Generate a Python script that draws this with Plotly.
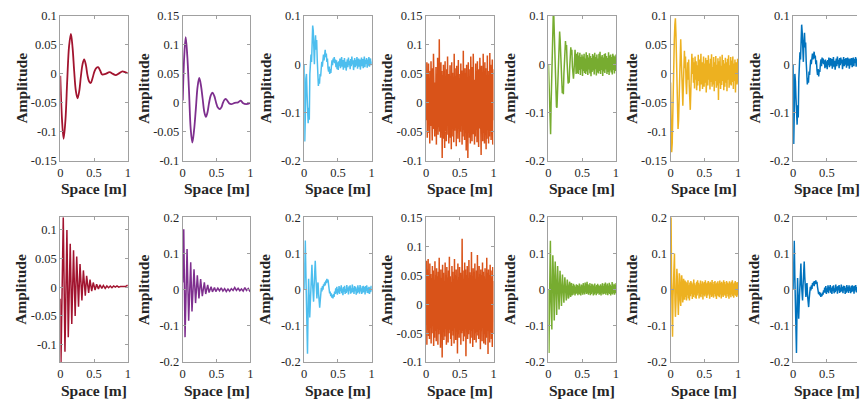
import numpy as np
import plotly.graph_objects as go
from plotly.subplots import make_subplots

# ---------------- colours (one per column) ----------------
col_colors = ["#A2142F", "#7E2F8E", "#4DBEEE", "#D95319", "#77AC30", "#EDB120", "#0072BD"]

# ---------------- x tick labels ----------------
space_ticks = [0, 0.5, 1]
space_tick_text = ["0", "0.5", "1"]

# ---------------- Row 1 data ----------------
r1c1_x = [0, 0.025, 0.049, 0.076, 0.103, 0.13, 0.157, 0.182, 0.205, 0.23, 0.255, 0.28, 0.305, 0.33,
          0.353, 0.378, 0.402, 0.427, 0.45, 0.478, 0.505, 0.532, 0.56, 0.59, 0.62, 0.67, 0.73, 0.78,
          0.82, 0.87, 0.92, 0.96, 1.0]
r1c1_y = [-0.003, -0.078, -0.112, -0.08, -0.01, 0.048, 0.069, 0.045, 0.006, -0.029, -0.042, -0.03,
          -0.004, 0.017, 0.025, 0.016, -0.002, -0.013, -0.0156, -0.007, 0.004, 0.010, 0.0117, 0.006,
          -0.001, 0.0, 0.003, 0.0, -0.002, 0.001, 0.0045, 0.003, 0.001]

r1c2_x = [0, 0.022, 0.044, 0.068, 0.093, 0.118, 0.142, 0.167, 0.193, 0.22, 0.245, 0.27, 0.294, 0.32,
          0.343, 0.367, 0.39, 0.415, 0.44, 0.467, 0.495, 0.52, 0.55, 0.575, 0.595, 0.62, 0.64, 0.665,
          0.69, 0.72, 0.77, 0.82, 0.86, 0.89, 0.94, 1.0]
r1c2_y = [0.004, 0.08, 0.1136, 0.08, 0.02, -0.045, -0.0685, -0.048, -0.012, 0.028, 0.043, 0.03, 0.008,
          -0.016, -0.024, -0.016, 0.0, 0.013, 0.0178, 0.012, 0.0, -0.008, -0.0106, -0.007, 0.0, 0.0055,
          0.0067, 0.003, -0.001, -0.002, 0.0, 0.001, 0.004, 0.0, -0.002, 0.0]

r1c3_y = [0.000, -0.160, -0.110, -0.030, -0.020, -0.060, -0.100, -0.122, -0.090, -0.115, -0.020, 0.010,
          0.020, 0.005, 0.045, 0.080, 0.070, 0.035, 0.000, 0.040, 0.060, 0.030, 0.050, 0.010, -0.020,
          -0.045, -0.030, -0.040, -0.020, -0.025, -0.010, 0.005, -0.005, 0.010, 0.020, 0.008, 0.025,
          0.030, 0.015, 0.022, 0.005, 0.012, -0.008, -0.015, -0.005, -0.020, -0.010, -0.018, -0.004,
          0.008, -0.002, 0.012, 0.004, 0.015, 0.002, 0.010,
          -0.006, 0.008, -0.010, 0.004, -0.012, 0.006, -0.004, 0.012, -0.008, 0.002, 0.015, -0.005,
          0.009, -0.011, 0.003, 0.013, -0.007, 0.005, -0.013, 0.001, 0.010, -0.006, 0.014, -0.002,
          0.007, -0.010, 0.011, -0.004, 0.016, 0.000, 0.008, -0.012, 0.004, 0.013, -0.006, 0.009,
          -0.003, 0.015, -0.009, 0.006, 0.012, -0.005, 0.010, -0.011, 0.007, 0.014, -0.004, 0.011,
          -0.008, 0.003, 0.016, -0.006, 0.009, 0.001, 0.013, -0.007, 0.010, -0.003, 0.015, -0.005,
          0.008, 0.012, -0.002, 0.006]

r1c4_y = [0.020, -0.030, 0.070, -0.060, 0.045, -0.035, 0.068, -0.052, 0.030, -0.070, 0.055, -0.040,
          0.072, -0.025, 0.040, -0.065, 0.060, -0.045, 0.085, -0.030, 0.050, -0.058, 0.035, -0.048,
          0.062, -0.072, 0.045, -0.038, 0.078, -0.055, 0.058, -0.042, 0.110, -0.050, 0.040, -0.060,
          0.070, -0.035, 0.055, -0.095, 0.048, -0.062, 0.066, -0.040, 0.038, -0.078, 0.072, -0.050,
          0.042, -0.066, 0.058, -0.035, 0.080, -0.055, 0.050, -0.070, 0.035, -0.045, 0.065, -0.060,
          0.045, -0.080, 0.070, -0.040, 0.052, -0.058, 0.040, -0.068, 0.085, -0.048, 0.060, -0.036,
          0.046, -0.075, 0.064, -0.052, 0.038, -0.062, 0.074, -0.044, 0.050, -0.068, 0.042, -0.050,
          0.068, -0.038, 0.056, -0.072, 0.045, -0.058, 0.090, -0.046, 0.040, -0.064, 0.060, -0.040,
          0.052, -0.082, 0.066, -0.050, 0.044, -0.095, 0.070, -0.048, 0.058, -0.060, 0.036, -0.070,
          0.080, -0.042, 0.048, -0.066, 0.062, -0.054, 0.085, -0.040, 0.050, -0.072, 0.040, -0.058,
          0.068, -0.046, 0.054, -0.068, 0.072, -0.050, 0.042, -0.076, 0.058, -0.044, 0.078, -0.060,
          0.046, -0.090, 0.064, -0.048, 0.052, -0.066, 0.085, -0.052, 0.044, -0.070, 0.070, -0.056,
          0.060, -0.080, 0.048, -0.062, 0.082, -0.046, 0.055, -0.070, 0.040, -0.058, 0.086, -0.050,
          0.066, -0.064, 0.050, -0.040, 0.075, -0.072, 0.058, -0.030]

r1c5_y = [0.000, -0.040, -0.100, -0.130, -0.145, -0.080, -0.020, 0.040, 0.085, 0.102, 0.102, 0.060,
          0.010, -0.030, -0.070, -0.088, -0.090, -0.050, -0.010, 0.030, 0.055, 0.068, 0.050, 0.020,
          -0.015, -0.040, -0.060, -0.045, -0.062, -0.020, 0.010, 0.035, 0.048, 0.030, 0.040, 0.005,
          -0.025, -0.040, -0.030, -0.038, -0.005, 0.025, 0.035, 0.020, 0.030, -0.005, -0.025, -0.030,
          -0.015, 0.015, 0.030, 0.010, -0.020, 0.022, -0.018, 0.025,
          -0.020, 0.018, -0.012, 0.024, -0.022, 0.015, -0.010, 0.020, -0.024, 0.016, -0.014, 0.022,
          -0.018, 0.012, -0.020, 0.025, -0.015, 0.019, -0.022, 0.014, -0.011, 0.023, -0.019, 0.017,
          -0.025, 0.013, -0.016, 0.021, -0.013, 0.018, -0.021, 0.024, -0.010, 0.015, -0.023, 0.020,
          -0.017, 0.012, -0.019, 0.022, -0.014, 0.026, -0.020, 0.016, -0.012, 0.019, -0.024, 0.014,
          -0.015, 0.021, -0.018, 0.023, -0.011, 0.017, -0.020, 0.013, -0.016, 0.025, -0.022, 0.018,
          -0.013, 0.020, -0.017, 0.015, -0.021, 0.022, -0.012, 0.018, -0.019, 0.016, -0.014, 0.020]

r1c6_y = [-0.015, -0.100, -0.135, -0.120, -0.060, -0.010, 0.030, 0.060, 0.085, 0.096, 0.070, 0.020,
          -0.030, -0.070, -0.095, -0.080, -0.030, 0.010, 0.045, 0.060, 0.030, -0.010, -0.040, -0.055,
          -0.020, 0.015, 0.040, 0.010, 0.030, -0.015, -0.035, -0.005, 0.020, -0.010, 0.025, -0.020,
          -0.040, -0.062, -0.030, 0.010, 0.035, 0.000, 0.028, -0.015, 0.020, -0.025, 0.030,
          -0.010, 0.022, -0.028, 0.015, -0.020, 0.033, -0.012, 0.025, -0.030, 0.010, 0.035, -0.018,
          0.020, -0.026, 0.012, 0.030, -0.022, 0.018, -0.015, 0.028, -0.032, 0.014, 0.024, -0.020,
          0.032, -0.010, 0.018, -0.027, 0.026, -0.014, 0.034, -0.022, 0.012, -0.018, 0.029, -0.030,
          0.020, -0.012, 0.031, -0.024, 0.016, -0.020, 0.027, -0.045, 0.022, -0.016, 0.030, -0.026,
          0.014, -0.019, 0.033, -0.012, 0.024, -0.028, 0.018, -0.022, 0.028, -0.015, 0.020, -0.030,
          0.026, -0.010, 0.032, -0.024, 0.015, -0.018, 0.029, -0.020, 0.023, -0.014, 0.030, -0.026,
          0.018, -0.012, 0.025, -0.032, 0.020, 0.012, -0.018, 0.026, -0.015]

r1c7_y = [0.000, -0.165, -0.100, -0.020, -0.035, -0.070, -0.110, -0.125, -0.085, -0.110, -0.030, 0.005,
          0.025, 0.010, 0.050, 0.082, 0.065, 0.030, 0.005, 0.045, 0.065, 0.035, 0.045, 0.005, -0.025,
          -0.042, -0.028, -0.038, -0.015, -0.022, -0.005, 0.010, 0.000, 0.015, 0.022, 0.010, 0.020,
          0.026, 0.012, 0.018, 0.000, 0.008, -0.012, -0.022, -0.010, -0.025, -0.012, -0.016, 0.000,
          0.010, -0.004, 0.014, 0.002, 0.012, 0.000, 0.008,
          -0.008, 0.010, -0.006, 0.006, -0.010, 0.009, -0.002, 0.014, -0.006, 0.004, 0.013, -0.003,
          0.011, -0.009, 0.005, 0.015, -0.005, 0.007, -0.011, 0.003, 0.012, -0.004, 0.016, 0.000,
          0.009, -0.008, 0.013, -0.002, 0.014, 0.002, 0.010, -0.010, 0.006, 0.015, -0.004, 0.011,
          -0.001, 0.013, -0.007, 0.008, 0.014, -0.003, 0.012, -0.009, 0.009, 0.012, -0.002, 0.013,
          -0.006, 0.005, 0.014, -0.004, 0.011, 0.003, 0.015, -0.005, 0.012, -0.001, 0.013, -0.003,
          0.010, 0.014, 0.000, 0.008]

# ---------------- Row 2 data ----------------
r2c1_x = [0, 0.01, 0.044, 0.069, 0.098, 0.118, 0.147, 0.17, 0.196, 0.22, 0.243, 0.27, 0.292, 0.32,
          0.342, 0.37, 0.39, 0.42, 0.44, 0.465, 0.488, 0.515, 0.538, 0.565, 0.588, 0.615, 0.638,
          0.665, 0.69, 0.715, 0.74, 0.765, 0.79, 0.815, 0.84, 0.865, 0.89, 0.915, 0.94, 0.965, 0.99, 1.0]
r2c1_y = [-0.02, -0.13, 0.121, -0.112, 0.099, -0.087, 0.075, -0.064, 0.064, -0.05, 0.053, -0.034,
          0.04, -0.023, 0.029, -0.015, 0.0196, -0.01, 0.013, -0.007, 0.008, -0.005, 0.005, -0.003,
          0.004, -0.002, 0.003, -0.002, 0.002, -0.001, 0.002, -0.001, 0.002, 0.0, 0.002, 0.0, 0.001,
          0.001, 0.002, 0.001, 0.003, 0.002]

r2c2_x = [0, 0.015, 0.034, 0.064, 0.088, 0.118, 0.137, 0.167, 0.19, 0.216, 0.24, 0.265, 0.29, 0.32,
          0.34, 0.37, 0.39, 0.42, 0.44, 0.47, 0.49, 0.52, 0.545, 0.57, 0.595, 0.62, 0.645, 0.67, 0.695,
          0.72, 0.745, 0.77, 0.795, 0.82, 0.845, 0.87, 0.895, 0.92, 0.945, 0.97, 1.0]
r2c2_y = [0.02, 0.167, -0.131, 0.112, -0.086, 0.0756, -0.06, 0.056, -0.037, 0.04, -0.024, 0.029,
          -0.018, 0.02, -0.012, 0.013, -0.008, 0.008, -0.006, 0.006, -0.005, 0.004, -0.003, 0.005,
          -0.004, 0.003, -0.005, 0.002, -0.004, 0.003, -0.002, 0.006, -0.002, 0.004, -0.003, 0.002,
          -0.004, 0.006, -0.002, 0.003, -0.006]

r2c3_y = [0.000, 0.060, 0.136, 0.050, -0.010, -0.100, -0.177, -0.060, 0.030, -0.020, -0.077, -0.040,
          0.000, 0.040, 0.069, 0.020, -0.020, -0.033, 0.010, 0.060, 0.080, 0.040, 0.000, -0.024,
          0.010, 0.020, -0.010, -0.040, -0.050, -0.030, -0.010, 0.005, -0.005, 0.010, 0.000, 0.015,
          0.010, 0.020, 0.012, 0.025, 0.018, 0.030, 0.020, 0.028, 0.010, 0.005, -0.010, -0.005,
          -0.018, -0.010, -0.022, -0.015, -0.024, -0.012, -0.020, -0.005, -0.012,
          0.004, -0.010, 0.008, -0.014, 0.002, -0.008, 0.010, -0.012, 0.006, -0.004, 0.012, -0.010,
          0.003, -0.015, 0.007, -0.006, 0.011, -0.012, 0.002, -0.009, 0.013, -0.005, 0.006, -0.013,
          0.009, -0.003, 0.012, -0.011, 0.004, -0.008, 0.014, -0.006, 0.005, -0.012, 0.010, -0.004,
          0.008, -0.014, 0.003, -0.010, 0.012, -0.007, 0.006, -0.011, 0.013, -0.005, 0.004, -0.012,
          0.009, -0.008, 0.011, -0.006, 0.007, -0.013, 0.010, -0.004, 0.012, -0.009, 0.005, -0.010,
          0.008, -0.012, 0.006, -0.007, 0.011, -0.005]

r2c4_y = [-0.020, 0.075, -0.070, 0.060, -0.045, 0.078, -0.055, 0.040, -0.060, 0.070, -0.040, 0.052,
          -0.068, 0.045, -0.050, 0.066, -0.035, 0.058, -0.072, 0.042, -0.058, 0.074, -0.046, 0.050,
          -0.064, 0.062, -0.040, 0.048, -0.070, 0.056, -0.052, 0.080, -0.044, 0.040, -0.075, 0.060,
          -0.050, 0.045, -0.092, 0.068, -0.048, 0.054, -0.062, 0.040, -0.056, 0.072, -0.042, 0.050,
          -0.070, 0.064, -0.038, 0.046, -0.066, 0.058, -0.050, 0.082, -0.044, 0.048, -0.060, 0.038,
          -0.072, 0.066, -0.046, 0.056, -0.054, 0.044, -0.068, 0.078, -0.040, 0.050, -0.062, 0.060,
          -0.048, 0.042, -0.085, 0.070, -0.052, 0.046, -0.058, 0.064, -0.044, 0.054, -0.070, 0.048,
          -0.050, 0.113, -0.046, 0.058, -0.064, 0.044, -0.056, 0.072, -0.040, 0.060, -0.090, 0.050,
          -0.048, 0.066, -0.060, 0.042, -0.052, 0.076, -0.044, 0.055, -0.068, 0.050, -0.058, 0.090,
          -0.046, 0.048, -0.074, 0.062, -0.042, 0.056, -0.062, 0.070, -0.050, 0.044, -0.066, 0.058,
          -0.048, 0.085, -0.054, 0.046, -0.060, 0.066, -0.044, 0.052, -0.078, 0.060, -0.046, 0.050,
          -0.064, 0.072, -0.040, 0.056, -0.068, 0.048, -0.052, 0.062, -0.070, 0.044, -0.058, 0.080,
          -0.046, 0.054, -0.086, 0.060, -0.042, 0.050, -0.066, 0.068, -0.048, 0.058, -0.060, 0.046,
          -0.074, 0.064, -0.050, 0.040]

r2c5_y = [0.000, -0.175, -0.050, 0.060, 0.135, -0.020, -0.095, -0.110, 0.030, 0.095, 0.050, -0.070,
          -0.085, 0.020, 0.078, 0.030, -0.060, -0.070, 0.015, 0.065, 0.020, -0.050, -0.055, 0.010,
          0.052, 0.015, -0.042, -0.045, 0.008, 0.042, 0.012, -0.035, -0.036, 0.006, 0.034, 0.010,
          -0.028, -0.030, 0.005, 0.028, 0.008, -0.024, -0.022, 0.012, 0.022, -0.008, -0.020, 0.015,
          0.018, -0.016, 0.010,
          -0.014, 0.016, -0.010, 0.012, -0.016, 0.008, -0.012, 0.015, -0.009, 0.013, -0.015, 0.010,
          -0.011, 0.017, -0.013, 0.009, -0.016, 0.014, -0.008, 0.012, -0.014, 0.018, -0.010, 0.011,
          -0.013, 0.020, -0.008, 0.016, -0.012, 0.022, -0.010, 0.015, -0.014, 0.012, -0.009, 0.018,
          -0.015, 0.010, -0.012, 0.016, -0.008, 0.014, -0.016, 0.011, -0.013, 0.017, -0.010, 0.009,
          -0.015, 0.013, -0.011, 0.016, -0.009, 0.012, -0.014, 0.010, -0.012, 0.015, -0.016, 0.011,
          -0.008, 0.018, -0.013, 0.010, -0.012, 0.016, -0.010, 0.020, -0.014, 0.012, -0.009, 0.017,
          -0.015, 0.011, -0.010, 0.019, -0.012, 0.014, -0.016, 0.010, -0.011, 0.021, -0.013, 0.012,
          -0.009, 0.016, -0.014, 0.013, -0.010, 0.018]

r2c6_y = [0.120, 0.200, 0.020, -0.080, -0.130, -0.020, 0.060, 0.090, 0.100, -0.030, -0.075, -0.040,
          0.040, 0.058, 0.030, -0.050, -0.070, -0.020, 0.045, 0.035, -0.030, -0.045, 0.010, 0.040,
          0.020, -0.035, -0.025, 0.030, 0.015, -0.028, 0.025, -0.020, 0.022, -0.030, 0.018, -0.015,
          0.026, -0.024, 0.012, -0.030, 0.020,
          -0.018, 0.024, -0.012, 0.020, -0.026, 0.015, -0.020, 0.028, -0.014, 0.018, -0.022, 0.012,
          -0.025, 0.022, -0.016, 0.026, -0.010, 0.019, -0.024, 0.014, -0.018, 0.025, -0.021, 0.016,
          -0.012, 0.023, -0.027, 0.018, -0.015, 0.021, -0.019, 0.026, -0.013, 0.017, -0.023, 0.020,
          -0.016, 0.024, -0.011, 0.018, -0.025, 0.022, -0.014, 0.019, -0.020, 0.027, -0.017, 0.015,
          -0.022, 0.021, -0.012, 0.024, -0.019, 0.016, -0.026, 0.020, -0.015, 0.023, -0.018, 0.017,
          -0.021, 0.025, -0.013, 0.019, -0.024, 0.022, -0.016, 0.018, -0.020, 0.026, -0.014, 0.021,
          -0.017, 0.015, -0.023, 0.024, -0.012, 0.020, -0.019, 0.017, -0.025, 0.023, -0.015, 0.018,
          -0.021, 0.022, -0.013, 0.026, -0.018, 0.016, -0.022, 0.020, -0.014, 0.024, -0.017, 0.019,
          -0.020, 0.021, -0.016, 0.018]

r2c7_y = [0.000, 0.070, 0.135, 0.040, -0.020, -0.110, -0.175, -0.050, 0.032, -0.030, -0.080, -0.035,
          0.005, 0.045, 0.072, 0.015, -0.025, -0.030, 0.015, 0.062, 0.078, 0.035, -0.005, -0.020,
          0.012, 0.018, -0.015, -0.042, -0.048, -0.025, -0.008, 0.008, -0.002, 0.012, 0.002, 0.018,
          0.012, 0.022, 0.010, 0.024, 0.015, 0.026, 0.016, 0.022, 0.008, 0.002, -0.012, -0.006,
          -0.016, -0.008, -0.020, -0.012, -0.018, -0.008, -0.014, -0.002, -0.008,
          0.006, -0.008, 0.010, -0.012, 0.004, -0.006, 0.012, -0.010, 0.008, -0.002, 0.013, -0.008,
          0.005, -0.012, 0.009, -0.004, 0.012, -0.010, 0.004, -0.007, 0.014, -0.003, 0.008, -0.011,
          0.010, -0.002, 0.013, -0.009, 0.006, -0.006, 0.014, -0.004, 0.007, -0.010, 0.011, -0.002,
          0.010, -0.012, 0.005, -0.008, 0.013, -0.005, 0.008, -0.009, 0.012, -0.003, 0.006, -0.010,
          0.011, -0.006, 0.012, -0.004, 0.009, -0.011, 0.011, -0.002, 0.013, -0.007, 0.007, -0.008,
          0.010, -0.010, 0.008, -0.005, 0.012, -0.003]

# ---------------- y axis ranges and ticks ----------------
row1_ranges = [[-0.15, 0.1], [-0.1, 0.15], [-0.2, 0.1], [-0.1, 0.15], [-0.2, 0.1], [-0.15, 0.1], [-0.2, 0.1]]
row1_ticks = [[-0.15, -0.1, -0.05, 0, 0.05, 0.1],
              [-0.1, -0.05, 0, 0.05, 0.1, 0.15],
              [-0.2, -0.1, 0, 0.1],
              [-0.1, -0.05, 0, 0.05, 0.1, 0.15],
              [-0.2, -0.1, 0, 0.1],
              [-0.15, -0.1, -0.05, 0, 0.05, 0.1],
              [-0.2, -0.1, 0, 0.1]]
row2_ranges = [[-0.13, 0.1212], [-0.2, 0.2], [-0.2, 0.2], [-0.1, 0.15], [-0.2, 0.2], [-0.2, 0.2], [-0.2, 0.2]]
row2_ticks = [[-0.1, -0.05, 0, 0.05, 0.1],
              [-0.2, -0.1, 0, 0.1, 0.2],
              [-0.2, -0.1, 0, 0.1, 0.2],
              [-0.1, -0.05, 0, 0.05, 0.1, 0.15],
              [-0.2, -0.1, 0, 0.1, 0.2],
              [-0.2, -0.1, 0, 0.1, 0.2],
              [-0.2, -0.1, 0, 0.1, 0.2]]

def uniform_space(vals):
    return np.linspace(0, 1, len(vals))

row1_series = [(r1c1_x, r1c1_y, "spline"), (r1c2_x, r1c2_y, "spline"),
               (uniform_space(r1c3_y), r1c3_y, "linear"), (uniform_space(r1c4_y), r1c4_y, "linear"),
               (uniform_space(r1c5_y), r1c5_y, "linear"), (uniform_space(r1c6_y), r1c6_y, "linear"),
               (uniform_space(r1c7_y), r1c7_y, "linear")]
row2_series = [(r2c1_x, r2c1_y, "linear"), (r2c2_x, r2c2_y, "linear"),
               (uniform_space(r2c3_y), r2c3_y, "linear"), (uniform_space(r2c4_y), r2c4_y, "linear"),
               (uniform_space(r2c5_y), r2c5_y, "linear"), (uniform_space(r2c6_y), r2c6_y, "linear"),
               (uniform_space(r2c7_y), r2c7_y, "linear")]

# ---------------- layout geometry (pixels) ----------------
W, H = 860, 409
col_left = [57.7, 181.0, 303.3, 426.0, 549.3, 672.3, 795.7]
plot_w = 68.0
row_top = [9.3, 217.7]
plot_h = 150.0

FONT = "Liberation Serif"
AXIS_COLOR = "#a0a0a0"
TEXT_COLOR = "#262626"

def fmt(v):
    s = f"{v:g}"
    return "0" if s in ("0", "-0") else s

fig = make_subplots(rows=2, cols=7)

annotations = []
for r, (series, ranges, ticks) in enumerate([(row1_series, row1_ranges, row1_ticks),
                                             (row2_series, row2_ranges, row2_ticks)]):
    for c in range(7):
        xs, ys, shape = series[c]
        lw = 1.8 if shape == "spline" else 1.5
        fig.add_trace(go.Scatter(x=list(xs), y=ys, mode="lines",
                                 line=dict(color=col_colors[c], width=lw, shape=shape),
                                 showlegend=False, hoverinfo="skip"),
                      row=r + 1, col=c + 1)
        x0 = col_left[c]
        x1 = min(x0 + plot_w, W)
        xr = [0, (x1 - x0) / plot_w]
        top = row_top[r]
        bot = top + plot_h
        last = (c == 6)
        fig.update_xaxes(domain=[x0 / W, x1 / W], range=xr,
                         tickvals=space_ticks, ticktext=space_tick_text,
                         showline=True, linecolor=AXIS_COLOR, linewidth=1, mirror="ticks",
                         ticks="inside", ticklen=3, tickcolor=AXIS_COLOR,
                         showgrid=False, zeroline=False,
                         tickfont=dict(family=FONT, size=12.5, color=TEXT_COLOR),
                         row=r + 1, col=c + 1)
        fig.update_yaxes(domain=[1 - bot / H, 1 - top / H], range=ranges[c],
                         tickvals=ticks[c], ticktext=[fmt(v) for v in ticks[c]],
                         showline=True, linecolor=AXIS_COLOR, linewidth=1,
                         mirror=False if last else "ticks",
                         ticks="inside", ticklen=3, tickcolor=AXIS_COLOR,
                         showgrid=False, zeroline=False,
                         tickfont=dict(family=FONT, size=12.5, color=TEXT_COLOR),
                         row=r + 1, col=c + 1)
        # axis titles
        annotations.append(dict(text="<b>Amplitude</b>", textangle=-90, showarrow=False,
                                xref="paper", yref="paper",
                                x=(x0 - 39.4) / W, y=1 - (top + plot_h / 2) / H,
                                xanchor="center", yanchor="middle",
                                font=dict(family=FONT, size=15.5, color=TEXT_COLOR)))
        annotations.append(dict(text="<b>Space [m]</b>", showarrow=False,
                                xref="paper", yref="paper",
                                x=(x0 + plot_w / 2) / W, y=1 - (bot + 29) / H,
                                xanchor="center", yanchor="middle",
                                font=dict(family=FONT, size=15.5, color=TEXT_COLOR)))

fig.update_layout(width=W, height=H, margin=dict(l=0, r=0, t=0, b=0),
                  paper_bgcolor="white", plot_bgcolor="white",
                  annotations=annotations, showlegend=False)

fig.write_html("out.html", config={"displayModeBar": False},
               post_script="document.body.style.margin='0';document.body.style.overflow='hidden';")
